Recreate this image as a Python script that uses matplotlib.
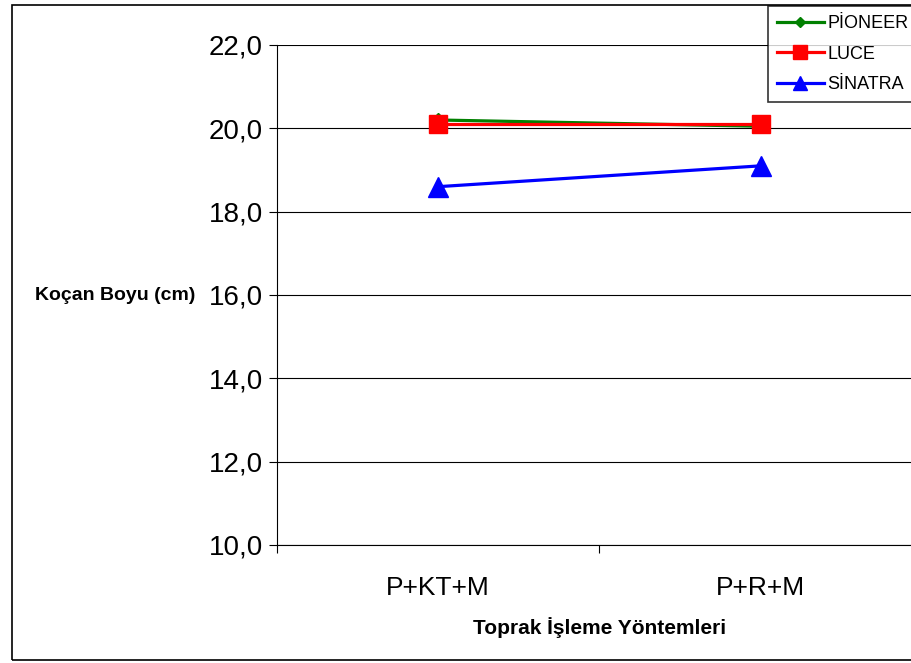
import matplotlib
matplotlib.use("Agg")
import matplotlib.pyplot as plt
from matplotlib.patches import Rectangle

plt.rcParams["font.family"] = ["Liberation Sans", "DejaVu Sans"]

categories = ["P+KT+M", "P+R+M"]
pioneer = [20.2, 20.05]
luce = [20.1, 20.1]
sinatra = [18.6, 19.1]
yticks = [10.0, 12.0, 14.0, 16.0, 18.0, 20.0, 22.0]

fig = plt.figure(figsize=(9.12, 6.63), dpi=100)
ax = fig.add_axes([277 / 912, 1 - 545 / 663, 645 / 912, 500 / 663])

x = list(range(len(categories)))
ax.plot(x, pioneer, color="#008000", lw=2.3, marker="D", ms=7, label="PİONEER", zorder=3)
ax.plot(x, luce, color="#FF0000", lw=2.3, marker="s", ms=13, label="LUCE", zorder=4)
ax.plot(x, sinatra, color="#0000FF", lw=2.3, marker="^", ms=14, label="SİNATRA", zorder=5)

ax.set_xlim(-0.5, 1.5)
ax.set_ylim(10, 22)
ax.set_yticks(yticks)
ax.set_yticklabels([f"{v:.1f}".replace(".", ",") for v in yticks], fontsize=20)
ax.set_xticks(x)
ax.set_xticklabels(categories, fontsize=19)
ax.set_xticks([-0.5, 0.5, 1.5], minor=True)
ax.tick_params(axis="x", which="major", length=0, pad=22)
ax.tick_params(axis="x", which="minor", length=6, width=0.8, direction="out")
ax.tick_params(axis="y", length=6, width=0.8, direction="out", pad=4)
ax.grid(True, axis="y", color="black", lw=0.8)
ax.set_axisbelow(True)
for s in ("top", "right"):
    ax.spines[s].set_visible(False)
for s in ("left", "bottom"):
    ax.spines[s].set_linewidth(0.8)

fig.text(35 / 912, 1 - 295 / 663, "Koçan Boyu (cm)", fontsize=14, fontweight="bold",
         va="center", ha="left")
fig.text(600 / 912, 1 - 628 / 663, "Toprak İşleme Yöntemleri", fontsize=15,
         fontweight="bold", va="center", ha="center")

# outer chart border
fig.patches.append(Rectangle((12 / 912, 1 - 660 / 663), 1.0, 655 / 663,
                             transform=fig.transFigure, fill=False, ec="black", lw=1.2))

leg = fig.legend(loc="upper left", bbox_to_anchor=(768 / 912, 1 - 6 / 663),
                 fontsize=13, frameon=True, fancybox=False, borderaxespad=0,
                 handlelength=2.6, handletextpad=0.2, labelspacing=0.75,
                 borderpad=0.5, markerscale=0.75)
leg.get_frame().set_edgecolor("black")
leg.get_frame().set_linewidth(1.2)

fig.savefig("out.png", dpi=100)
